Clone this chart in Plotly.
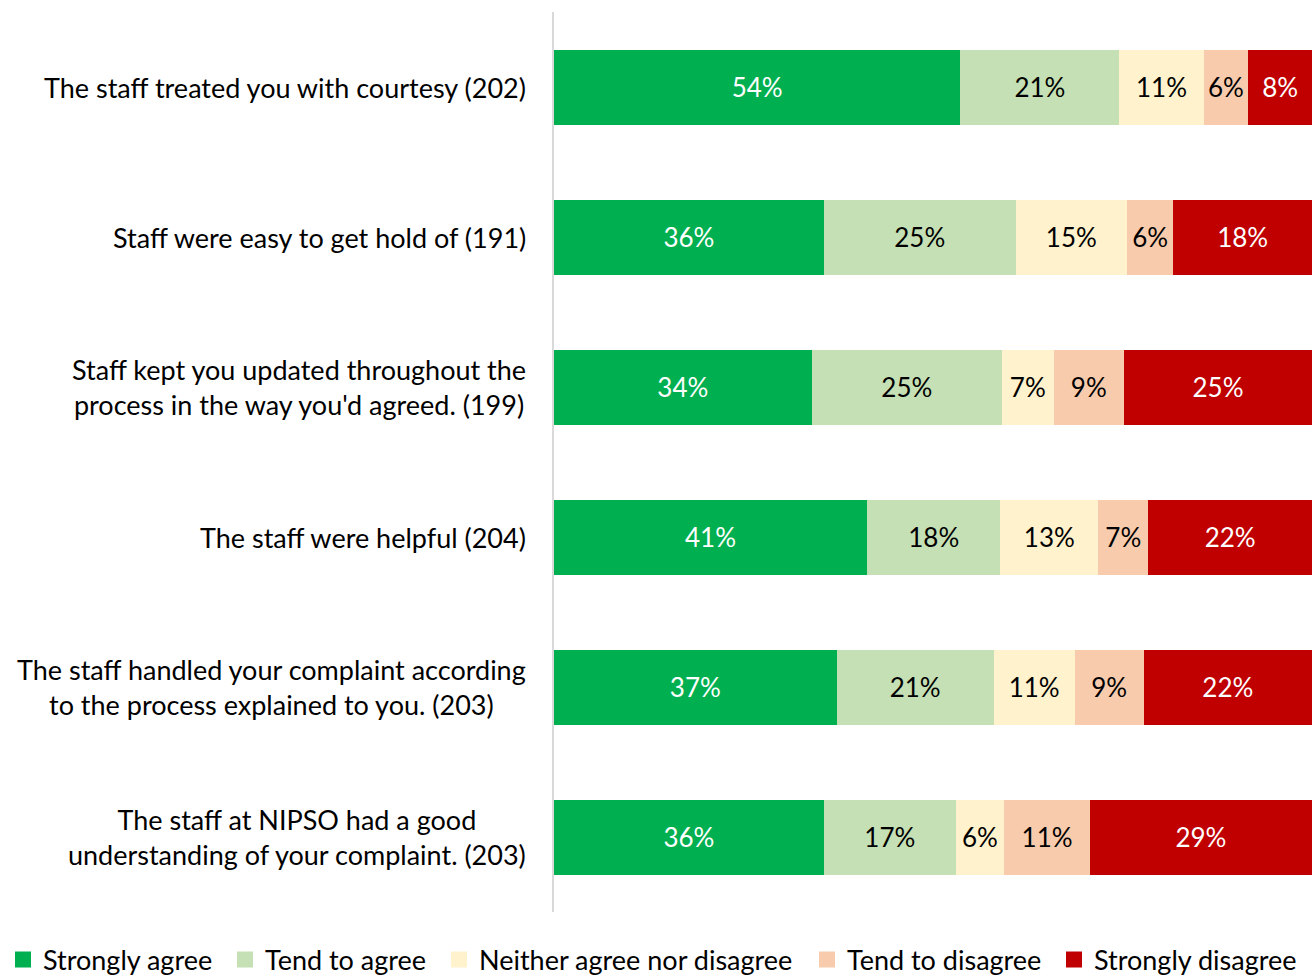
import plotly.graph_objects as go

categories = [
    "The staff treated you with courtesy (202)",
    "Staff were easy to get hold of (191)",
    "Staff kept you updated throughout the<br>process in the way you'd agreed. (199)",
    "The staff were helpful (204)",
    "The staff handled your complaint according<br>to the process explained to you. (203)",
    "The staff at NIPSO had a good<br>understanding of your complaint. (203)",
]
series_names = ["Strongly agree", "Tend to agree", "Neither agree nor disagree",
                "Tend to disagree", "Strongly disagree"]
strongly_agree = [53.6, 35.6, 34.0, 41.3, 37.3, 35.6]
tend_to_agree = [21.0, 25.3, 25.1, 17.6, 20.7, 17.4]
neither = [11.1, 14.7, 6.8, 12.9, 10.7, 6.4]
tend_to_disagree = [5.9, 6.1, 9.3, 6.6, 9.1, 11.3]
strongly_disagree = [8.4, 18.3, 24.8, 21.6, 22.2, 29.3]

values = [strongly_agree, tend_to_agree, neither, tend_to_disagree, strongly_disagree]
colors = ["#00B050", "#C5E0B4", "#FFF2CC", "#F8CBAD", "#C00000"]
text_colors = ["white", "black", "black", "black", "white"]

FONT = "Lato"
W, H = 1313, 975
cat_ids = [f"c{i}" for i in range(len(categories))]
legend_text_left_px = [41, 263, 477, 845, 1092]

fig = go.Figure()
legend_ids = ["legend"] + [f"legend{i}" for i in range(2, len(series_names) + 1)]
for name, vals, col, tcol, lid in zip(series_names, values, colors, text_colors, legend_ids):
    fig.add_trace(go.Bar(
        y=cat_ids, x=vals, orientation="h", name=name,
        marker=dict(color=col, line=dict(width=0)),
        text=[f"{round(v)}%" for v in vals],
        textposition="inside", insidetextanchor="middle", textangle=0,
        constraintext="none",
        textfont=dict(size=26, color=tcol, family=FONT),
        showlegend=False, hoverinfo="skip",
    ))
    fig.add_trace(go.Scatter(
        x=[None], y=[None], mode="markers", name=name, legend=lid,
        marker=dict(symbol="square", size=18, color=col),
        showlegend=True,
    ))

for cid, label in zip(cat_ids, categories):
    fig.add_annotation(
        x=0, xref="paper", y=cid, yref="y", text=label, showarrow=False,
        xanchor="right", yanchor="middle", align="center", xshift=-26,
        font=dict(size=27, color="black", family=FONT),
    )

legend_layouts = {}
for lid, px in zip(legend_ids, legend_text_left_px):
    legend_layouts[lid] = dict(
        orientation="h", xref="container", yref="container",
        x=(px - 38) / W, xanchor="left", y=(H - 960) / H, yanchor="middle",
        font=dict(size=27, family=FONT), itemsizing="trace",
        bgcolor="rgba(0,0,0,0)",
    )

fig.update_layout(
    width=W, height=H,
    barmode="stack", bargap=0.5,
    plot_bgcolor="white", paper_bgcolor="white",
    margin=dict(l=554, r=1, t=12, b=63),
    font=dict(family=FONT, size=27, color="black"),
    xaxis=dict(range=[0, 100], visible=False, fixedrange=True),
    yaxis=dict(categoryorder="array", categoryarray=cat_ids, range=[5.5, -0.5],
               showticklabels=False, showline=True, linecolor="#D9D9D9",
               linewidth=2, showgrid=False, zeroline=False, ticks="",
               fixedrange=True),
    **legend_layouts,
)

fig.write_html("out.html", config={"displayModeBar": False},
               post_script="document.body.style.margin='0';")
